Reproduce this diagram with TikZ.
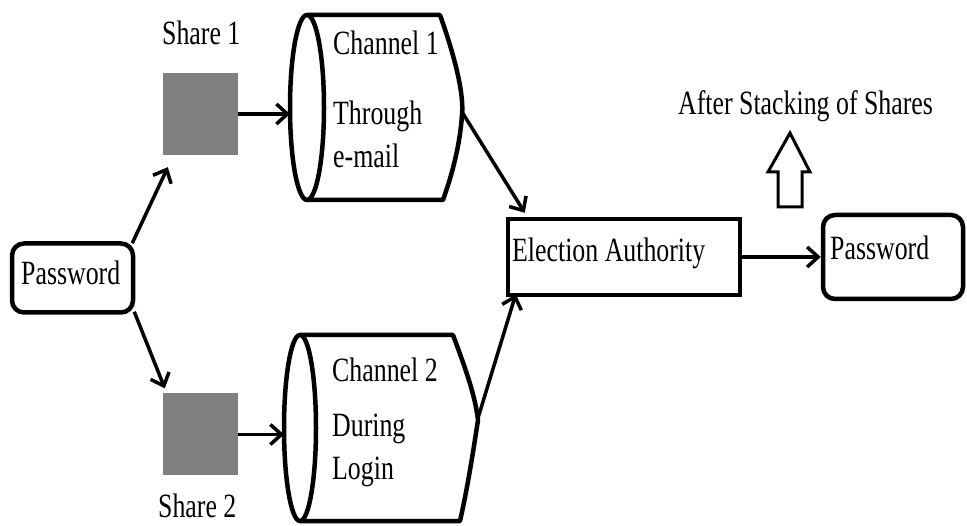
\documentclass[tikz,border=0pt]{standalone}
\usepackage{fontspec}
\setmainfont{Liberation Serif}[FakeStretch=0.76]
\usepackage{xcolor}
\usetikzlibrary{positioning}
\usetikzlibrary{arrows.meta}
\definecolor{sharegray}{RGB}{128,128,128}

\begin{document}
\begin{tikzpicture}[x=1pt,y=-1pt,
  txt/.style={font=\fontsize{34}{36}\selectfont, inner sep=0pt, anchor=base west},
  rbox/.style={draw=black, line width=4.5pt, rounded corners=12pt, inner sep=0pt},
  sqbox/.style={fill=sharegray, minimum width=75pt, minimum height=82pt, inner sep=0pt},
  chan/.style={draw=black, line width=4.5pt, line join=round},
  conn/.style={line width=3.5pt, -{Straight Barb[length=11pt,width=20pt]}}]

\useasboundingbox (0,0) rectangle (967,526);

% password and shares
\node[rbox, minimum width=121pt, minimum height=69pt] (pwA) at (72.5,278) {};
\node[txt] (pwAtxt) at (21,285) {Password};

\node[sqbox] (s1) at (200.5,114) {};
\node[txt] (s1txt) at (162,45) {Share 1};
\node[sqbox] (s2) at (200.5,434.5) {};
\node[txt] (s2txt) at (158,518) {Share 2};

% channel 1
\draw[chan] (307,15) -- (440,15) .. controls (456,60) and (464,95) .. (462,115)
  .. controls (460,145) and (452,175) .. (443,200) -- (307,200);
\draw[chan] (307,107.5) ellipse [x radius=17pt, y radius=92.5pt];
\coordinate (ch1in) at (290,114);
\coordinate (ch1out) at (462,112);
\node[txt] (ch1a) at (333,55) {Channel 1};
\node[txt] (ch1b) at (333,125) {Through};
\node[txt] (ch1c) at (333,168) {e-mail};

% channel 2
\draw[chan] (300,335) -- (453,335) .. controls (466,370) and (475,395) .. (478,420)
  .. controls (472,460) and (466,495) .. (460,521) -- (300,521);
\draw[chan] (300,428) ellipse [x radius=16pt, y radius=93pt];
\coordinate (ch2in) at (284,434.5);
\coordinate (ch2out) at (478,418);
\node[txt] (ch2a) at (332,382) {Channel 2};
\node[txt] (ch2b) at (332,437) {During};
\node[txt] (ch2c) at (332,479) {Login};

% authority and result
\node[draw=black, line width=4.5pt, minimum width=232pt, minimum height=76pt, inner sep=0pt] (ea) at (624,257) {};
\node[txt] (eatxt) at (512,262) {Election Authority};

\node[rbox, minimum width=140pt, minimum height=84pt] (pwB) at (893,257) {};
\node[txt] (pwBtxt) at (830,260) {Password};

\draw[line width=3pt, line join=miter] (778,207) -- (778,172) -- (768,172) -- (790,133) -- (810,172) -- (802,172) -- (802,207) -- cycle;
\node[txt] (stack) at (678,115) {After Stacking of Shares};

% connectors
\draw[conn] ([xshift=-3pt,yshift=-2pt]pwA.north east) -- ([xshift=5pt,yshift=-12pt]s1.south west);
\draw[conn] ([xshift=-1pt,yshift=3pt]pwA.south east) -- ([xshift=2pt,yshift=5pt]s2.north west);
\draw[conn] (s1.east) -- (ch1in);
\draw[conn] (s2.east) -- (ch2in);
\draw[conn] (ch1out) -- ([xshift=19pt,yshift=4pt]ea.north west);
\draw[conn] (ch2out) -- ([xshift=10pt,yshift=3pt]ea.south west);
\draw[conn] (ea.east) -- (pwB.west);

\end{tikzpicture}
\end{document}
